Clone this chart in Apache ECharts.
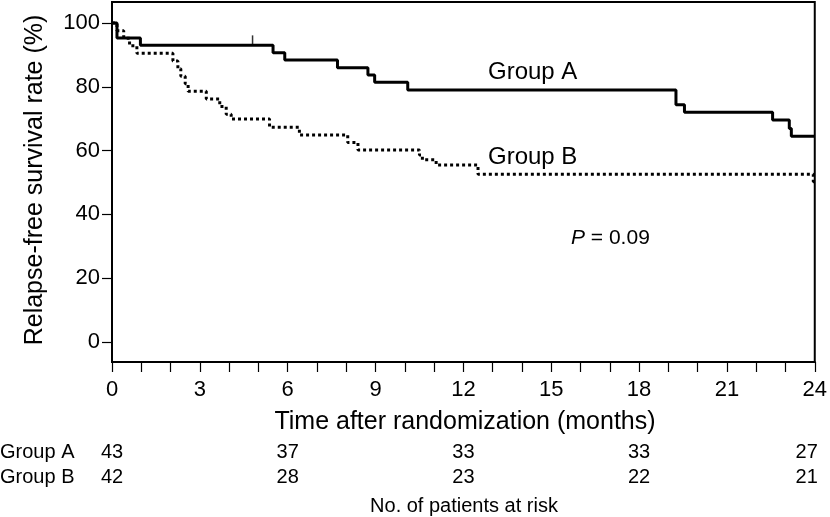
<!DOCTYPE html>
<html><head><meta charset="utf-8">
<script src="https://cdn.jsdelivr.net/npm/echarts@6/dist/echarts.min.js"></script>
<style>html,body{margin:0;padding:0;background:#fff}#c{width:830px;height:517px}</style>
</head><body><div id="c"></div>
<script>
// Kaplan-Meier step points [month, survival %]
const groupA = [[0,100],[0.17,95.3],[0.97,93.0],[5.5,90.7],[5.9,88.4],[7.7,86.0],[8.74,83.7],[8.97,81.4],[10.1,79.0],[19.26,74.4],[19.55,72.0],[22.56,69.6],[23.13,66.9],[23.2,64.5],[24,64.5]];
const groupB = [[0,100],[0.17,97.6],[0.4,95.2],[0.6,92.9],[0.85,90.5],[2.08,88.1],[2.25,85.7],[2.35,83.3],[2.5,81.0],[2.6,78.6],[3.22,76.2],[3.68,73.8],[3.9,71.4],[4.07,69.9],[5.38,67.3],[6.4,64.9],[8.05,62.5],[8.4,60.2],[10.5,58.6],[10.6,57.1],[11.07,55.5],[12.5,52.6],[23.95,50.2],[24,50.2]];
const censorA = [[4.8,93.0]];
const xTicks = [0,1,2,3,4,5,6,7,8,9,10,11,12,13,14,15,16,17,18,19,20,21,22,23,24];
const xLabels = [0,3,6,9,12,15,18,21,24];
const yLabels = [0,20,40,60,80,100];
const riskTimes = [0,6,12,18,24];
const riskA = [43,37,33,33,27];
const riskB = [42,28,23,22,21];

const FONT = '"Liberation Sans", Arial, sans-serif';
const chart = echarts.init(document.getElementById('c'), null, {renderer:'canvas'});
const option = {
  animation:false,
  grid:{left:112, right:15, top:2, bottom:155, show:true, borderColor:'#000', borderWidth:2, backgroundColor:'transparent'},
  xAxis:{type:'value', min:0, max:24,
    axisLine:{show:true, onZero:false, lineStyle:{color:'#000', width:2}},
    axisTick:{show:true, length:10, inside:false, customValues:xTicks, lineStyle:{color:'#000', width:1.2}},
    axisLabel:{customValues:xLabels, color:'#000', fontSize:22, fontFamily:FONT, margin:17},
    splitLine:{show:false}},
  yAxis:{type:'value', min:-6.3, max:106.6,
    axisLine:{show:true, onZero:false, lineStyle:{color:'#000', width:2}},
    axisTick:{show:true, length:10, customValues:yLabels, lineStyle:{color:'#000', width:1.2}},
    axisLabel:{customValues:yLabels, color:'#000', fontSize:22, fontFamily:FONT, margin:12},
    splitLine:{show:false}},
  series:[
    {type:'line', step:'end', data:groupA, showSymbol:false, symbol:'none', lineStyle:{color:'#000', width:3}, z:3},
    {type:'line', step:'end', data:groupB, showSymbol:false, symbol:'none', lineStyle:{color:'#000', width:3, type:[3,3]}, z:2},
    {type:'scatter', data:censorA, symbol:'rect', symbolSize:[1.5,10], symbolOffset:[0,-5], itemStyle:{color:'#000'}, z:4}
  ]
};
chart.setOption(option);

const g = [];
g.push({type:'text', x:35, y:180, rotation:Math.PI/2, style:{text:'Relapse-free survival rate (%)', fill:'#000', font:'25px '+FONT, align:'center', verticalAlign:'middle'}});
g.push({type:'text', x:465, y:422, style:{text:'Time after randomization (months)', fill:'#000', font:'25px '+FONT, align:'center', verticalAlign:'middle'}});
g.push({type:'text', x:488, y:72, style:{text:'Group A', fill:'#000', font:'24px '+FONT, align:'left', verticalAlign:'middle'}});
g.push({type:'text', x:488, y:157, style:{text:'Group B', fill:'#000', font:'24px '+FONT, align:'left', verticalAlign:'middle'}});
g.push({type:'text', x:571, y:238, style:{rich:{i:{fontStyle:'italic', fontSize:21, fontFamily:FONT, fill:'#000'}, n:{fontSize:21, fontFamily:FONT, fill:'#000'}}, text:'{i|P}{n| = 0.09}', align:'left', verticalAlign:'middle'}});
g.push({type:'text', x:0, y:452, style:{text:'Group A', fill:'#000', font:'20px '+FONT, align:'left', verticalAlign:'middle'}});
g.push({type:'text', x:0, y:477, style:{text:'Group B', fill:'#000', font:'20px '+FONT, align:'left', verticalAlign:'middle'}});
riskTimes.forEach((t,i)=>{
  const px = chart.convertToPixel({gridIndex:0}, [t,0])[0];
  const last = i === riskTimes.length-1;
  const x = last ? px+3 : px;
  const align = last ? 'right' : 'center';
  g.push({type:'text', x:x, y:452, style:{text:String(riskA[i]), fill:'#000', font:'20px '+FONT, align:align, verticalAlign:'middle'}});
  g.push({type:'text', x:x, y:477, style:{text:String(riskB[i]), fill:'#000', font:'20px '+FONT, align:align, verticalAlign:'middle'}});
});
g.push({type:'text', x:464, y:506, style:{text:'No. of patients at risk', fill:'#000', font:'20px '+FONT, align:'center', verticalAlign:'middle'}});
chart.setOption({graphic:g});
</script></body></html>
